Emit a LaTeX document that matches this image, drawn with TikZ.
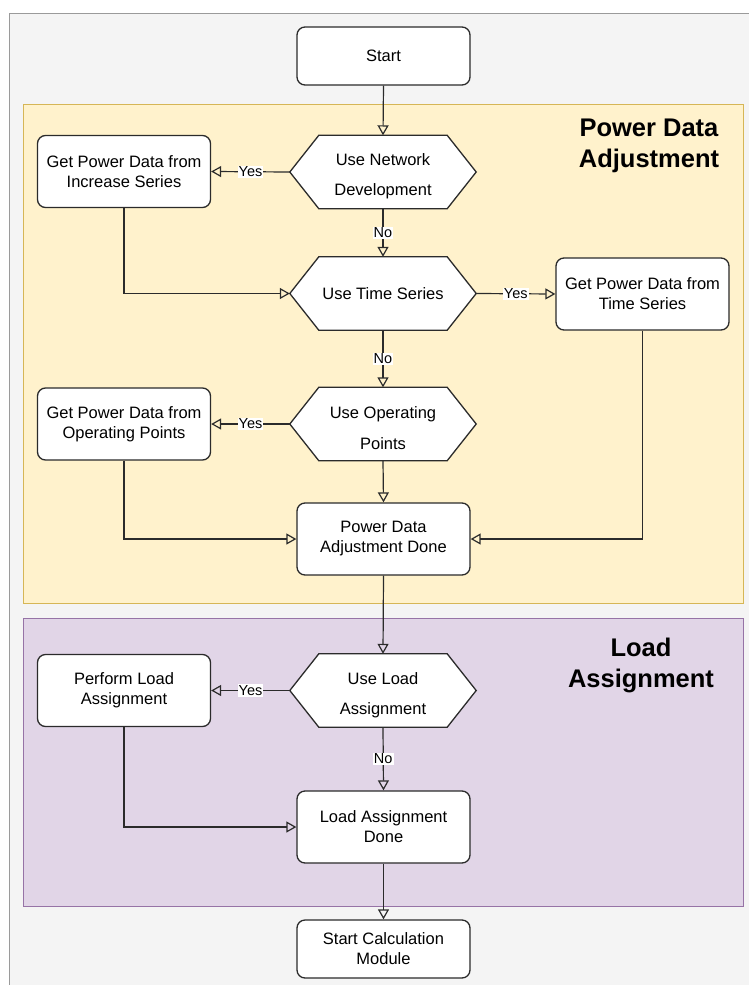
\documentclass[tikz,border=0pt]{standalone}
\usepackage{fontspec}
\setmainfont{Liberation Sans}
\usetikzlibrary{arrows.meta}
\pgfdeclarelayer{bg}
\pgfdeclarelayer{mid}
\pgfsetlayers{bg,mid,main}
\definecolor{frameg}{HTML}{F4F4F4}
\definecolor{framed}{HTML}{9A9A9A}
\definecolor{yelf}{HTML}{FFF2CC}
\definecolor{yeld}{HTML}{D6B656}
\definecolor{purf}{HTML}{E1D5E7}
\definecolor{purd}{HTML}{9673A6}
\definecolor{linec}{HTML}{2B2B2B}
\tikzset{
  proc/.style={draw=linec, fill=white, rounded corners=8pt, line width=1.3pt,
    minimum width=173pt, minimum height=72pt, align=center, inner sep=0pt,
    font=\fontsize{16.5}{20}\selectfont},
  dectext/.style={minimum width=186pt, minimum height=73pt, inner sep=0pt,
    align=center, font=\fontsize{16.5}{31}\selectfont},
  declabel/.style={inner sep=0pt, align=center, font=\fontsize{16.5}{30.5}\selectfont},
  hexline/.style={draw=linec, fill=white, line width=1.3pt, line join=miter},
  conn/.style={draw=linec, line width=1.2pt, -{Triangle[open, width=11pt, length=10pt]}},
  lbl/.style={fill=white, inner sep=1pt, font=\fontsize{14.5}{14.5}\selectfont},
  paneltitle/.style={font=\fontsize{25.5}{31}\selectfont\bfseries, align=center}
}
\newcommand\hexdraw[1]{%
  \begin{pgfonlayer}{mid}
  \path[hexline] ([xshift=29pt]#1.north west) -- ([xshift=-29pt]#1.north east) -- (#1.east)
    -- ([xshift=-29pt]#1.south east) -- ([xshift=29pt]#1.south west) -- (#1.west) -- cycle;
  \end{pgfonlayer}}
\begin{document}
\begin{tikzpicture}[x=1pt, y=-1pt]
\useasboundingbox (0,0) rectangle (748,985);
\clip (0,0) rectangle (748,985);
\begin{pgfonlayer}{bg}
\fill[white] (0,0) rectangle (748,985);
\path[fill=frameg, draw=framed, line width=1pt] (9,13) rectangle (770,1000);
\path[fill=yelf, draw=yeld, line width=1pt] (23,104) rectangle (743,603);
\path[fill=purf, draw=purd, line width=1pt] (23,618) rectangle (743,906);
\end{pgfonlayer}

\node[paneltitle] (t1) at (649,146) {Power Data\\Adjustment};
\node[paneltitle] (t2) at (641,665) {Load\\Assignment};

\node[proc, minimum height=58pt] (start) at (383.5,56) {Start};
\node[dectext] (nw) at (383,172) {}; \hexdraw{nw}
\node[declabel] (nwt) at (383,176) {Use Network\\Development};
\node[proc] (incr) at (124,171.5) {Get Power Data from\\Increase Series};
\node[dectext] (ts) at (383,293.5) {Use Time Series}; \hexdraw{ts}
\node[proc] (tsbox) at (642.5,294) {Get Power Data from\\Time Series};
\node[dectext] (op) at (383,424) {}; \hexdraw{op}
\node[declabel] (opt) at (383,428) {Use Operating\\Points};
\node[proc] (opbox) at (124,424) {Get Power Data from\\Operating Points};
\node[proc] (pdone) at (383.5,539) {Power Data\\Adjustment Done};
\node[dectext] (la) at (383,690.5) {}; \hexdraw{la}
\node[declabel] (lat) at (383,695) {Use Load\\Assignment};
\node[proc] (labox) at (124,690.5) {Perform Load\\Assignment};
\node[proc] (ladone) at (383.5,827) {Load Assignment\\Done};
\node[proc, minimum height=58pt] (calc) at (383.5,949) {Start Calculation\\Module};

\draw[conn] (start.south) -- (nw.north);
\draw[conn] (nw.west) -- node[lbl] {Yes} (incr.east);
\draw[conn] (nw.south) -- node[lbl] {No} (ts.north);
\draw[conn] (incr.south) |- (ts.west);
\draw[conn] (ts.east) -- node[lbl] {Yes} (tsbox.west);
\draw[conn] (ts.south) -- node[lbl] {No} (op.north);
\draw[conn] (tsbox.south) |- (pdone.east);
\draw[conn] (op.west) -- node[lbl] {Yes} (opbox.east);
\draw[conn] (op.south) -- (pdone.north);
\draw[conn] (opbox.south) |- (pdone.west);
\draw[conn] (pdone.south) -- (la.north);
\draw[conn] (la.west) -- node[lbl] {Yes} (labox.east);
\draw[conn] (la.south) -- node[lbl] {No} (ladone.north);
\draw[conn] (labox.south) |- (ladone.west);
\draw[conn] (ladone.south) -- (calc.north);
\end{tikzpicture}
\end{document}
